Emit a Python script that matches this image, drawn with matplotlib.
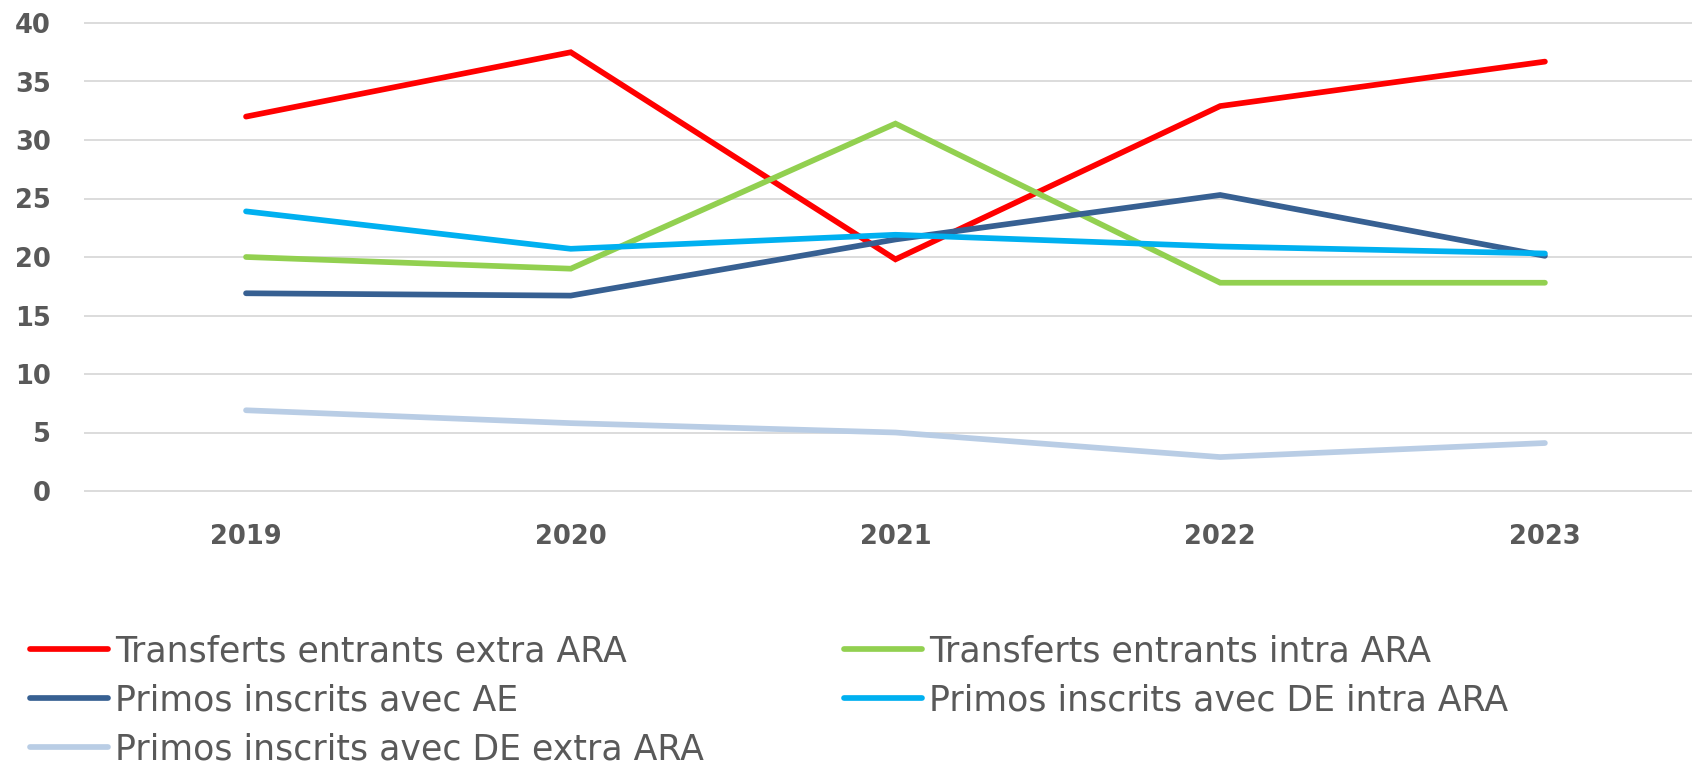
import matplotlib.pyplot as plt

# donnees
annees = ['2019', '2020', '2021', '2022', '2023']
transferts_extra = [32.0, 37.5, 19.8, 32.9, 36.7]
transferts_intra = [20.0, 19.0, 31.4, 17.8, 17.8]
primos_ae = [16.9, 16.7, 21.5, 25.3, 20.1]
primos_de_intra = [23.9, 20.7, 21.9, 20.9, 20.3]
primos_de_extra = [6.9, 5.8, 5.0, 2.9, 4.1]

gris = '#595959'
W, H = 1692, 765

fig = plt.figure(figsize=(W / 100, H / 100), dpi=100)
# zone de trace (en pixels du reference)
y0, y40 = 491, 23
pad = 3.5
ax = fig.add_axes([84 / W, (H - y0 - pad) / H, 1 - 84 / W, (y0 - y40 + 2 * pad) / H])

x = list(range(len(annees)))
lw = 4.1
l1, = ax.plot(x, transferts_extra, color='#FF0000', lw=lw, solid_capstyle='round', solid_joinstyle='miter',
              label='Transferts entrants extra ARA')
l2, = ax.plot(x, transferts_intra, color='#92D050', lw=lw, solid_capstyle='round', solid_joinstyle='miter',
              label='Transferts entrants intra ARA')
l3, = ax.plot(x, primos_ae, color='#376092', lw=lw, solid_capstyle='round', solid_joinstyle='miter',
              label='Primos inscrits avec AE')
l4, = ax.plot(x, primos_de_intra, color='#00B0F0', lw=lw, solid_capstyle='round', solid_joinstyle='miter',
              label='Primos inscrits avec DE intra ARA')
l5, = ax.plot(x, primos_de_extra, color='#B9CDE5', lw=lw, solid_capstyle='round', solid_joinstyle='miter',
              label='Primos inscrits avec DE extra ARA')

ax.set_xlim(-0.499, 4.453)
ax.set_ylim(-pad / 11.7, 40 + pad / 11.7)
ax.set_yticks(range(0, 41, 5))
ax.set_xticks(x)
ax.set_xticklabels(annees)
ax.yaxis.grid(True, color='#D9D9D9', lw=1.3)
ax.set_axisbelow(True)
for s in ax.spines.values():
    s.set_visible(False)
ax.tick_params(axis='both', length=0, colors=gris)
ax.tick_params(axis='y', pad=24, labelsize=18.5)
ax.tick_params(axis='x', pad=21, labelsize=18.5)
for t in ax.get_xticklabels() + ax.get_yticklabels():
    t.set_fontweight('bold')

# legende en deux colonnes
opts = dict(loc='upper left', frameon=False, fontsize=25, handlelength=2.25,
            handletextpad=0.2, borderpad=0, borderaxespad=0, labelspacing=0.44,
            labelcolor=gris)
leg1 = fig.legend(handles=[l1, l3, l5], bbox_to_anchor=(30 / W, 1 - 634 / H), **opts)
leg2 = fig.legend(handles=[l2, l4], bbox_to_anchor=(844 / W, 1 - 634 / H), **opts)

fig.savefig('out.png', dpi=100)
